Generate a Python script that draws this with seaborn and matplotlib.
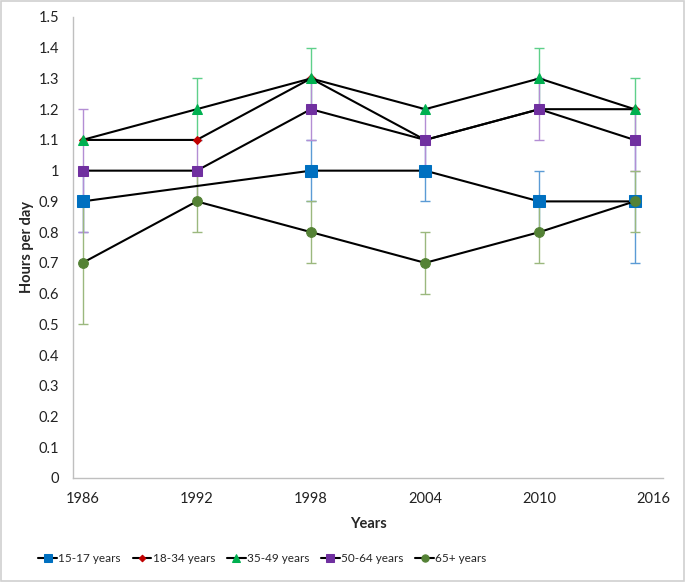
import numpy as np
import pandas as pd
import matplotlib
matplotlib.use("Agg")
import matplotlib.pyplot as plt
import seaborn as sns
from matplotlib.patches import Rectangle

# Values
years = [1986, 1992, 1998, 2004, 2010, 2015]
groups = ['15-17 years', '18-34 years', '35-49 years', '50-64 years', '65+ years']
hours_15_17 = [0.9, np.nan, 1.0, 1.0, 0.9, 0.9]
hours_18_34 = [1.1, 1.1, 1.3, 1.1, 1.2, 1.2]
hours_35_49 = [1.1, 1.2, 1.3, 1.2, 1.3, 1.2]
hours_50_64 = [1.0, 1.0, 1.2, 1.1, 1.2, 1.1]
hours_65_plus = [0.7, 0.9, 0.8, 0.7, 0.8, 0.9]
err_15_17 = [0.1, np.nan, 0.1, 0.1, 0.1, 0.2]
err_18_34 = [0, 0, 0, 0, 0, 0]
err_35_49 = [0, 0.1, 0.1, 0, 0.1, 0.1]
err_50_64 = [0.2, 0.1, 0.1, 0.1, 0.1, 0.1]
err_65_plus = [0.2, 0.1, 0.1, 0.1, 0.1, 0.1]

values = [hours_15_17, hours_18_34, hours_35_49, hours_50_64, hours_65_plus]
errors = [err_15_17, err_18_34, err_35_49, err_50_64, err_65_plus]

rows = []
for g, v, e in zip(groups, values, errors):
    for y, h, er in zip(years, v, e):
        rows.append({'Year': y, 'Group': g, 'Hours': h, 'Err': er})
data = pd.DataFrame(rows).dropna()

marker_colors = ['#0070C0', '#C00000', '#00B050', '#7030A0', '#548235']
err_colors = ['#5B9BD5', '#E06666', '#5FD08A', '#B38ED4', '#9BB87E']
markers = ['s', 'D', '^', 's', 'o']
sizes = [8, 4.5, 7, 7, 7]

sns.set_style('white')
plt.rcParams['font.family'] = ['Lato', 'DejaVu Sans']

fig = plt.figure(figsize=(6.85, 5.82), dpi=100)
ax = fig.add_axes([0.1066, 0.1787, 0.8614, 0.7921])

# black connecting lines with markers
for i, g in enumerate(groups):
    sub = data[data['Group'] == g]
    sns.lineplot(data=sub, x='Year', y='Hours', ax=ax, color='black', linewidth=1.5,
                 marker=markers[i], markersize=sizes[i], markerfacecolor=marker_colors[i],
                 markeredgecolor=marker_colors[i], label=g, zorder=3, errorbar=None)

# error bars
for i, g in enumerate(groups):
    sub = data[(data['Group'] == g) & (data['Err'] > 0)]
    if len(sub):
        ax.errorbar(sub['Year'], sub['Hours'], yerr=sub['Err'], fmt='none',
                    ecolor=err_colors[i], elinewidth=1, capsize=3.5, capthick=1, zorder=2 + i * 0.01)

ax.set_xlim(1985.5, 2016.5)
ax.set_ylim(0, 1.5)
ax.set_xticks([1986, 1992, 1998, 2004, 2010, 2016])
ax.set_yticks(np.round(np.arange(0, 1.51, 0.1), 1))
ax.set_yticklabels(['0'] + ['%g' % t for t in np.round(np.arange(0.1, 1.51, 0.1), 1)])
ax.tick_params(axis='both', length=0, labelsize=10.5, colors='#222222')
ax.tick_params(axis='y', pad=10)
ax.tick_params(axis='x', pad=10)
ax.set_xlabel('Years', fontsize=10.5, fontweight='bold', labelpad=8)
ax.set_ylabel('Hours per day', fontsize=10.5, fontweight='bold', labelpad=3)

for side in ['top', 'right']:
    ax.spines[side].set_visible(False)
for side in ['left', 'bottom']:
    ax.spines[side].set_color('#BFBFBF')
    ax.spines[side].set_linewidth(1)

ax.legend(loc='center', bbox_to_anchor=(0.383, 0.041), bbox_transform=fig.transFigure,
          ncol=5, frameon=False, fontsize=8.5, handlelength=1.6, handletextpad=0.1,
          columnspacing=1.0, markerscale=0.75)

fig.patches.append(Rectangle((0.002, 0.002), 0.996, 0.996, transform=fig.transFigure,
                             fill=False, edgecolor='#D0D0D0', linewidth=1.2))

fig.savefig('out.png', dpi=100)
